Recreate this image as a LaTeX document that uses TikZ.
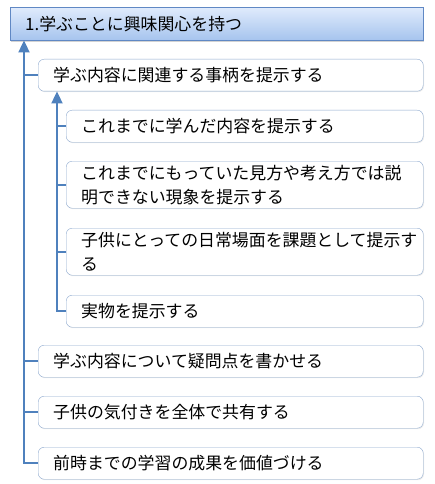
\documentclass[tikz,border=0pt]{standalone}
\usepackage{fontspec}
\setmainfont{Noto Sans CJK JP}
\usepackage{tikz}
\usetikzlibrary{arrows.meta,positioning,shadows}
\definecolor{linkblue}{RGB}{79,129,189}
\definecolor{boxedge}{RGB}{140,168,206}
\definecolor{headedge}{RGB}{96,136,196}
\definecolor{headtop}{RGB}{224,235,252}
\definecolor{headbot}{RGB}{166,196,238}
\tikzset{%
	headbox/.style  = {draw=headedge, rectangle, top color=headtop, bottom color=headbot, minimum height=33pt, inner xsep=15pt, anchor=north west, align=left, text width=383pt, drop shadow={opacity=0.35, shadow xshift=1pt, shadow yshift=-2pt}},
	itembox/.style  = {draw=boxedge, fill=white, rectangle, rounded corners=6pt, minimum height=32pt, inner xsep=15pt, anchor=north west, align=left, drop shadow={opacity=0.15, shadow xshift=0.8pt, shadow yshift=-1pt}},
	wide/.style     = {itembox, text width=355pt}, % 385 wide
	narrow/.style   = {itembox, text width=327pt}, % 357 wide
	link/.style     = {draw=linkblue, line width=1.8pt},
	uparrow/.style  = {link, -{Triangle[width=11pt,length=12pt]}},
}
\begin{document}
\begin{tikzpicture}[x=1pt,y=-1pt,font=\fontsize{16.9}{24}\selectfont]
	\useasboundingbox (0,0) rectangle (434,484);
	\node [headbox] (top) at (10,7) {1.学ぶことに興味関心を持つ};
	\node [wide] (b2) at (38,59) {学ぶ内容に関連する事柄を提示する};
	\node [narrow] (b3) at (66,110) {これまでに学んだ内容を提示する};
	\node [narrow,minimum height=47pt] (b4) at (66,161) {これまでにもっていた見方や考え方では説\\明できない現象を提示する};
	\node [narrow,minimum height=47pt] (b5) at (66,228) {子供にとっての日常場面を課題として提示す\\る};
	\node [narrow] (b6) at (66,295) {実物を提示する};
	\node [wide] (b7) at (38,345) {学ぶ内容について疑問点を書かせる};
	\node [wide] (b8) at (38,396) {子供の気付きを全体で共有する};
	\node [wide] (b9) at (38,447) {前時までの学習の成果を価値づける};
	
	% trunk points under the boxes
	\coordinate [xshift=14pt] (t1) at (top.south west);
	\coordinate [xshift=19pt] (t2) at (b2.south west);
	
	\draw[uparrow] (b9.west) -| (t1);
	\draw[link] (b2.west) -- (b2.west -| t1);
	\draw[link] (b7.west) -- (b7.west -| t1);
	\draw[link] (b8.west) -- (b8.west -| t1);
	
	\draw[uparrow] (b6.west) -| (t2);
	\draw[link] (b3.west) -- (b3.west -| t2);
	\draw[link] (b4.west) -- (b4.west -| t2);
	\draw[link] (b5.west) -- (b5.west -| t2);
\end{tikzpicture}
\end{document}
